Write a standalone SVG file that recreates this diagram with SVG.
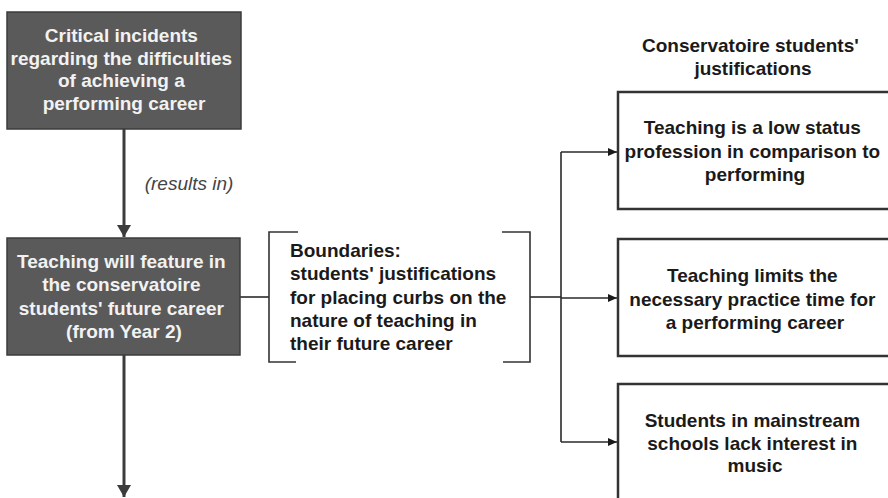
<svg xmlns="http://www.w3.org/2000/svg" width="888" height="498" viewBox="0 0 888 498">
  <style>
    .dark { fill: #5a5a5a; stroke: #3c3c3c; stroke-width: 1.5; }
    .dark-text { font-family: "Liberation Sans", Arial, sans-serif; font-size: 19px; font-weight: bold; fill: #f2f2f2; text-anchor: middle; }
    .plain { fill: #ffffff; stroke: #333333; stroke-width: 2.5; }
    .body-text { font-family: "Liberation Sans", Arial, sans-serif; font-size: 19px; font-weight: bold; fill: #1a1a1a; }
    .mid { text-anchor: middle; }
    .note { font-family: "Liberation Sans", Arial, sans-serif; font-size: 19px; font-style: italic; fill: #444444; }
    .main-line { fill: none; stroke: #3c3c3c; stroke-width: 3; }
    .thin-line { fill: none; stroke: #2a2a2a; stroke-width: 1.6; }
    .bracket { fill: none; stroke: #333333; stroke-width: 1.6; }
  </style>
  <defs>
    <marker id="bigArrow" markerWidth="14" markerHeight="14" refX="12" refY="7" orient="auto" markerUnits="userSpaceOnUse">
      <path d="M0,0 L12,7 L0,14 Z" fill="#3c3c3c"/>
    </marker>
    <marker id="smallArrow" markerWidth="10" markerHeight="10" refX="9" refY="5" orient="auto" markerUnits="userSpaceOnUse">
      <path d="M0,1 L9,5 L0,9 Z" fill="#1a1a1a"/>
    </marker>
  </defs>

  <rect width="888" height="498" fill="#ffffff"/>

  <!-- connectors -->
  <g id="connectors">
    <line class="main-line" x1="124" y1="129" x2="124" y2="237" marker-end="url(#bigArrow)"/>
    <line class="main-line" x1="124" y1="355" x2="124" y2="497" marker-end="url(#bigArrow)"/>
    <line class="thin-line" x1="240" y1="297" x2="269" y2="297"/>
    <line class="thin-line" x1="530" y1="297" x2="561" y2="297"/>
    <polyline class="thin-line" points="561,152 561,442"/>
    <line class="thin-line" x1="561" y1="152" x2="617" y2="152" marker-end="url(#smallArrow)"/>
    <line class="thin-line" x1="561" y1="298" x2="617" y2="298" marker-end="url(#smallArrow)"/>
    <line class="thin-line" x1="561" y1="442" x2="617" y2="442" marker-end="url(#smallArrow)"/>
    <text class="note" x="189" y="190" text-anchor="middle">(results in)</text>
  </g>

  <g id="critical-incidents">
    <rect class="dark" x="7" y="12" width="234" height="117"/>
    <text class="dark-text" x="124" y="42">
      <tspan x="124">Critical incidents</tspan>
      <tspan x="124" dy="22.7">regarding the difficulties</tspan>
      <tspan x="124" dy="22.7">of achieving a</tspan>
      <tspan x="124" dy="22.7">performing career</tspan>
    </text>
  </g>

  <g id="teaching-feature">
    <rect class="dark" x="7" y="238" width="233" height="117"/>
    <text class="dark-text" x="124" y="268">
      <tspan x="124">Teaching will feature in</tspan>
      <tspan x="124" dy="23.3">the conservatoire</tspan>
      <tspan x="124" dy="23.3">students' future career</tspan>
      <tspan x="124" dy="23.3">(from Year 2)</tspan>
    </text>
  </g>

  <g id="boundaries">
    <polyline class="bracket" points="298,232 269,232 269,362 296,362"/>
    <polyline class="bracket" points="502,232 530,232 530,362 503,362"/>
    <text class="body-text" x="290" y="257">
      <tspan x="290">Boundaries:</tspan>
      <tspan x="290" dy="23.3">students' justifications</tspan>
      <tspan x="290" dy="23.3">for placing curbs on the</tspan>
      <tspan x="290" dy="23.3">nature of teaching in</tspan>
      <tspan x="290" dy="23.3">their future career</tspan>
    </text>
  </g>

  <g id="justifications-heading">
    <text class="body-text mid" x="753" y="52">
      <tspan x="753">Conservatoire students'</tspan>
      <tspan x="753" dy="22.5">justifications</tspan>
    </text>
  </g>

  <g id="low-status">
    <rect class="plain" x="618" y="92" width="280" height="117"/>
    <text class="body-text mid" x="755" y="134">
      <tspan x="755">Teaching is a low status</tspan>
      <tspan x="755" dy="23.5">profession in comparison to</tspan>
      <tspan x="755" dy="23.5">performing</tspan>
    </text>
  </g>

  <g id="practice-time">
    <rect class="plain" x="618" y="239" width="280" height="117"/>
    <text class="body-text mid" x="755" y="282">
      <tspan x="755">Teaching limits the</tspan>
      <tspan x="755" dy="23.5">necessary practice time for</tspan>
      <tspan x="755" dy="23.5">a performing career</tspan>
    </text>
  </g>

  <g id="lack-interest">
    <rect class="plain" x="618" y="384" width="280" height="130"/>
    <text class="body-text mid" x="755" y="427">
      <tspan x="755">Students in mainstream</tspan>
      <tspan x="755" dy="22.5">schools lack interest in</tspan>
      <tspan x="755" dy="22.5">music</tspan>
    </text>
  </g>
</svg>
